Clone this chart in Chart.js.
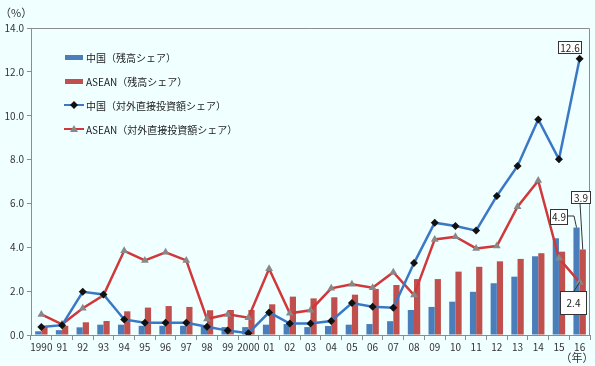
<!DOCTYPE html>
<html>
<head>
<meta charset="utf-8">
<script src="https://cdn.jsdelivr.net/npm/chart.js@4/dist/chart.umd.min.js"></script>
<style>
  html, body { margin: 0; padding: 0; background: #f0ffff; }
  #wrap { width: 595px; height: 366px; position: relative; }
</style>
</head>
<body>
<div id="wrap"><canvas id="chart" width="595" height="366"></canvas></div>
<script>
const years = ['1990','91','92','93','94','95','96','97','98','99','2000','01','02','03','04','05','06','07','08','09','10','11','12','13','14','15','16'];

const chinaStock = [0.17,0.22,0.35,0.47,0.47,0.42,0.42,0.42,0.38,0.36,0.36,0.47,0.5,0.36,0.41,0.47,0.5,0.63,1.14,1.28,1.52,1.97,2.36,2.66,3.59,4.41,4.9];
const aseanStock = [0.37,0.42,0.58,0.64,1.08,1.25,1.32,1.28,1.13,1.14,1.14,1.4,1.75,1.67,1.72,1.84,2.1,2.28,2.55,2.55,2.89,3.11,3.36,3.47,3.73,3.8,3.9];
const chinaFdi = [0.36,0.45,1.97,1.85,0.71,0.56,0.56,0.56,0.38,0.2,0.08,1.03,0.52,0.52,0.64,1.46,1.29,1.24,3.28,5.12,4.97,4.76,6.34,7.71,9.83,8.01,12.6];
const aseanFdi = [0.94,0.49,1.22,1.81,3.84,3.4,3.77,3.4,0.73,0.94,0.79,3.02,0.99,1.13,2.13,2.31,2.16,2.86,1.82,4.36,4.48,3.95,4.06,5.85,7.04,3.5,2.4];

const seriesNames = ['中国（残高シェア）', 'ASEAN（残高シェア）', '中国（対外直接投資額シェア）', 'ASEAN（対外直接投資額シェア）'];

const FONT = "'Noto Sans CJK JP', 'Noto Sans', sans-serif";
const AXIS_GRAY = '#8c8c8c';

// frame, unit labels, legend and value boxes
const extras = {
    id: 'extras',
    afterDraw(chart) {
        const ctx = chart.ctx;
        const area = chart.chartArea;
        ctx.save();
        ctx.strokeStyle = AXIS_GRAY;
        ctx.lineWidth = 1;
        ctx.beginPath();
        ctx.moveTo(area.left, area.top + 0.5);
        ctx.lineTo(area.right - 0.5, area.top + 0.5);
        ctx.lineTo(area.right - 0.5, area.bottom);
        ctx.stroke();

        ctx.fillStyle = '#333';
        ctx.font = '11px ' + FONT;
        ctx.textBaseline = 'middle';
        ctx.textAlign = 'left';
        ctx.fillText('（%）', 0, 13);
        ctx.textAlign = 'center';
        ctx.fillText('（年）', 577, 358);

        // legend
        const ds = chart.data.datasets;
        const ly = [57, 81, 105, 129];
        ctx.textAlign = 'left';
        ctx.font = '10px ' + FONT;
        for (let i = 0; i < 4; i++) {
            const d = ds[i];
            const y = ly[i];
            if (d.type === 'bar') {
                ctx.fillStyle = d.backgroundColor;
                ctx.fillRect(65, y - 2, 18, 5);
            } else {
                ctx.strokeStyle = d.borderColor;
                ctx.lineWidth = 2;
                ctx.beginPath();
                ctx.moveTo(64, y);
                ctx.lineTo(84, y);
                ctx.stroke();
                ctx.fillStyle = d.pointBackgroundColor;
                ctx.beginPath();
                if (d.pointStyle === 'rectRot') {
                    ctx.moveTo(74, y - 4); ctx.lineTo(78, y); ctx.lineTo(74, y + 4); ctx.lineTo(70, y);
                } else {
                    ctx.moveTo(74, y - 4); ctx.lineTo(78, y + 3); ctx.lineTo(70, y + 3);
                }
                ctx.closePath();
                ctx.fill();
            }
            ctx.fillStyle = '#222';
            ctx.fillText(d.label, 86, y + 1);
        }

        // value boxes for 2016
        const last = years.length - 1;
        const pt = (di) => chart.getDatasetMeta(di).data[last];
        const box = (text, x, y, w, h) => {
            ctx.fillStyle = '#fff';
            ctx.fillRect(x, y, w, h);
            ctx.strokeStyle = '#333';
            ctx.lineWidth = 1;
            ctx.strokeRect(x + 0.5, y + 0.5, w, h);
            ctx.fillStyle = '#222';
            ctx.textAlign = 'center';
            ctx.fillText(text, x + w / 2 + 0.5, y + h / 2 + 1);
        };
        ctx.strokeStyle = '#333';
        ctx.lineWidth = 1;
        const bc = pt(0), br = pt(1), lc = pt(2), la = pt(3);
        ctx.beginPath();
        ctx.moveTo(567, 216); ctx.lineTo(574, 216); ctx.lineTo(bc.x, bc.y);
        ctx.moveTo(580, 203); ctx.lineTo(br.x, br.y);
        ctx.moveTo(574, 291); ctx.lineTo(la.x, la.y);
        ctx.stroke();
        box(chinaFdi[last].toFixed(1), 558, 41, 23, 12);
        box(aseanStock[last].toFixed(1), 571, 191, 19, 12);
        box(chinaStock[last].toFixed(1), 550, 209, 17, 15);
        box(aseanFdi[last].toFixed(1), 560, 291, 26, 23);
        ctx.restore();
    }
};

const ctx = document.getElementById('chart').getContext('2d');
new Chart(ctx, {
    data: {
        labels: years,
        datasets: [{
            type: 'bar',
            label: seriesNames[0],
            data: chinaStock,
            backgroundColor: '#4a7ebb',
            categoryPercentage: 0.6,
            barPercentage: 1.0,
            order: 2
        },
        {
            type: 'bar',
            label: seriesNames[1],
            data: aseanStock,
            backgroundColor: '#c0504d',
            categoryPercentage: 0.6,
            barPercentage: 1.0,
            order: 2
        },
        {
            type: 'line',
            label: seriesNames[2],
            data: chinaFdi,
            borderColor: '#3a78c6',
            borderWidth: 2.5,
            pointStyle: 'rectRot',
            pointRadius: 4,
            pointBackgroundColor: '#111',
            pointBorderColor: '#111',
            pointBorderWidth: 0,
            tension: 0,
            order: 0
        },
        {
            type: 'line',
            label: seriesNames[3],
            data: aseanFdi,
            borderColor: '#d0383a',
            borderWidth: 2.5,
            pointStyle: 'triangle',
            pointRadius: 4.5,
            pointBackgroundColor: '#888',
            pointBorderColor: '#888',
            pointBorderWidth: 0,
            tension: 0,
            order: 1
        }]
    },
    options: {
        responsive: false,
        animation: false,
        devicePixelRatio: 1,
        layout: { padding: { top: 28, right: 5, left: 0, bottom: 0 } },
        plugins: {
            legend: { display: false },
            tooltip: { enabled: false }
        },
        scales: {
            x: {
                offset: true,
                grid: { display: true, drawOnChartArea: false, drawTicks: true, tickLength: 5, color: AXIS_GRAY, offset: true },
                border: { color: AXIS_GRAY },
                ticks: { color: '#333', font: { family: FONT, size: 10 }, maxRotation: 0, autoSkip: false, padding: 1 },
                afterFit(scale) { scale.height = 31; }
            },
            y: {
                min: 0,
                max: 14,
                ticks: {
                    stepSize: 2,
                    color: '#333',
                    font: { family: FONT, size: 10 },
                    padding: 3,
                    callback: (v) => v.toFixed(1)
                },
                grid: { display: true, drawOnChartArea: false, drawTicks: true, tickLength: 4, color: AXIS_GRAY },
                border: { color: AXIS_GRAY },
                afterFit(scale) { scale.width = 31; }
            }
        }
    },
    plugins: [extras]
});
</script>
</body>
</html>
